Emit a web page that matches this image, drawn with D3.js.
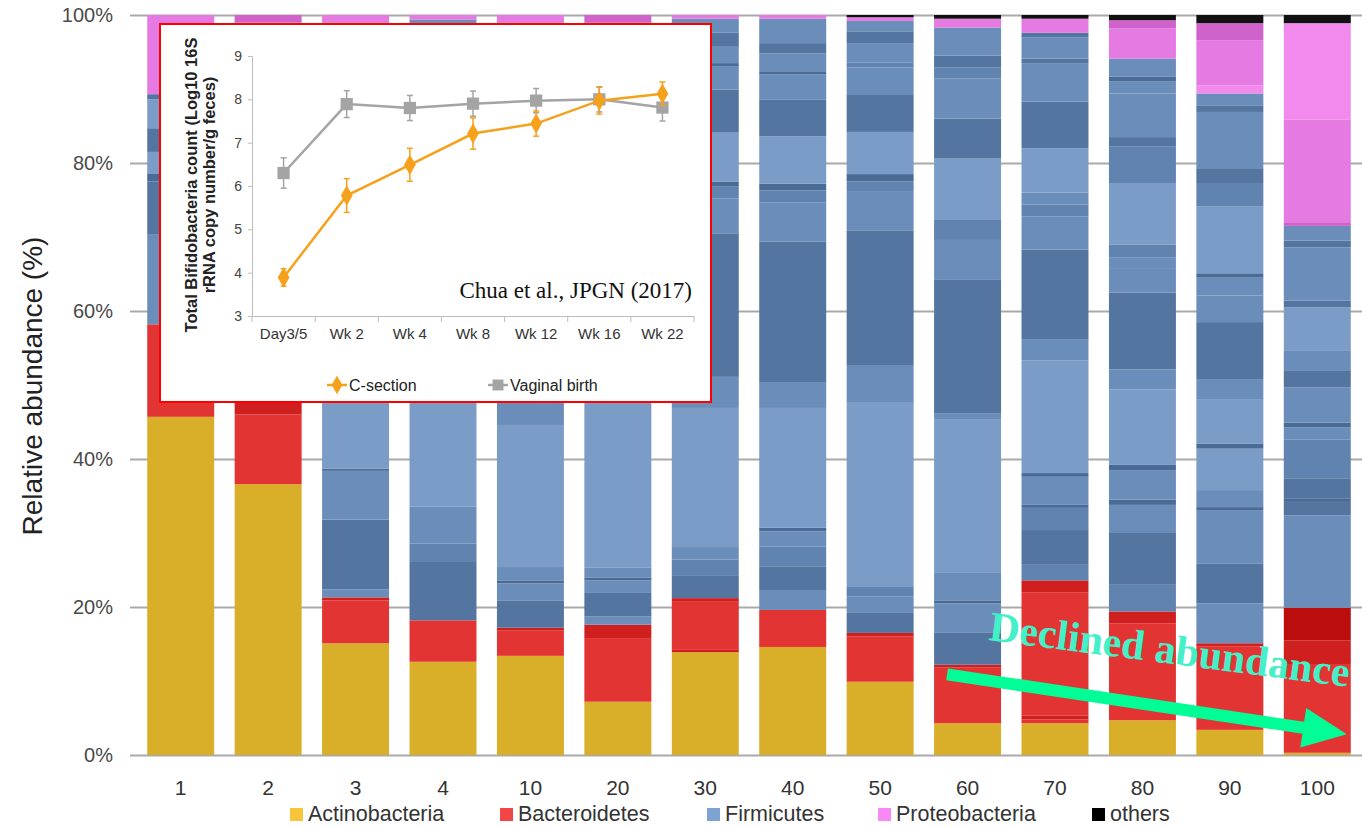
<!DOCTYPE html>
<html>
<head>
<meta charset="utf-8">
<script src="https://cdn.jsdelivr.net/npm/d3@7"></script>
<style>
  body { margin: 0; background: #fff; }
  svg { display: block; font-family: Arial, "Liberation Sans", sans-serif; }
</style>
</head>
<body>
<svg id="chart" width="1362" height="827"></svg>
<script>
// ---- main chart data (relative abundance, %) ----
var samples = ['1','2','3','4','10','20','30','40','50','60','70','80','90','100'];
var actinobacteria = [45.7, 36.6, 15.1, 12.6, 13.4, 7.2, 13.9, 14.6, 9.9, 4.3, 4.3, 4.7, 3.4, 0.3];
// sub-bands [value, shade] from bottom to top
var bacteroidetesBands = [
  [[12.5,'r']],
  [[9.4,'r'],[2.0,'R']],
  [[5.8,'r'],[0.4,'R']],
  [[5.6,'r']],
  [[3.4,'r'],[0.4,'R']],
  [[8.6,'r'],[1.8,'R']],
  [[0.3,'R'],[6.6,'r'],[0.4,'R']],
  [[5.0,'r']],
  [[6.1,'r'],[0.5,'R']],
  [[7.5,'r'],[0.4,'R']],
  [[0.5,'r'],[0.5,'R'],[16.7,'r'],[1.6,'R']],
  [[13.1,'r'],[1.6,'R']],
  [[11.3,'r'],[0.4,'R']],
  [[12.0,'r'],[3.2,'R'],[4.4,'RR']]
];
var firmicutesBands = [
  [[12.2,'M'],[7.1,'D'],[1.1,'X'],[2.9,'L'],[3.2,'D'],[3.9,'L'],[0.7,'D']],
  [[10,'L'],[6,'M'],[9,'D'],[5,'L'],[8,'M'],[6,'D'],[7,'M']],
  [[1.1,'M'],[9.4,'D'],[0.9,'M'],[5.7,'M'],[0.3,'X'],[10.8,'L'],[12,'L'],[8,'M'],[10,'D'],[6,'L'],[8,'M'],[5.5,'D']],
  [[8.0,'D'],[2.4,'K'],[5.0,'M'],[16,'L'],[10,'L'],[8,'M'],[12,'D'],[6,'L'],[8,'M'],[5.8,'M']],
  [[3.7,'D'],[2.3,'M'],[0.4,'X'],[1.8,'M'],[19.2,'L'],[4.7,'M'],[11,'L'],[9,'D'],[8,'M'],[7,'L'],[9,'M'],[5.7,'D']],
  [[1.1,'M'],[3.2,'D'],[1.7,'M'],[0.4,'X'],[1.3,'M'],[24.0,'L'],[10,'L'],[8,'M'],[11,'D'],[7,'L'],[8,'M'],[5.7,'D']],
  [[3.1,'D'],[2.1,'K'],[1.7,'M'],[18.8,'L'],[4.2,'M'],[19.4,'D'],[4.7,'M'],[1.6,'K'],[0.7,'X'],[6.6,'L'],[5.8,'D'],[3.2,'M'],[0.4,'X'],[2.2,'M'],[1.9,'D'],[1.9,'M']],
  [[2.7,'M'],[3.2,'D'],[2.7,'K'],[2.0,'M'],[0.5,'X'],[16.2,'L'],[3.4,'M'],[19.1,'D'],[5.3,'M'],[1.6,'K'],[0.9,'X'],[6.4,'L'],[5.0,'D'],[3.4,'M'],[0.4,'X'],[2.4,'M'],[1.4,'D'],[3.3,'M']],
  [[2.7,'D'],[2.2,'M'],[1.3,'K'],[25.0,'L'],[5.0,'M'],[18.2,'D'],[5.2,'M'],[1.4,'K'],[1.0,'X'],[5.7,'L'],[5.1,'D'],[3.6,'M'],[0.7,'K'],[2.6,'M'],[1.6,'D'],[1.4,'M']],
  [[4.3,'D'],[4.0,'M'],[0.4,'X'],[3.8,'M'],[20.6,'L'],[0.9,'M'],[18.0,'D'],[5.4,'M'],[2.7,'K'],[8.3,'L'],[5.4,'D'],[5.4,'M'],[1.5,'K'],[1.6,'D'],[3.8,'M']],
  [[2.1,'K'],[4.7,'D'],[3.0,'K'],[0.4,'X'],[3.8,'M'],[0.5,'X'],[15.2,'L'],[2.9,'M'],[12.1,'D'],[4.5,'M'],[1.6,'K'],[1.6,'M'],[6.0,'L'],[6.3,'D'],[5.2,'M'],[0.6,'D'],[2.9,'M'],[0.6,'D']],
  [[3.6,'K'],[7.0,'D'],[3.8,'M'],[0.7,'X'],[4.0,'M'],[0.7,'X'],[10.2,'L'],[2.7,'M'],[10.4,'D'],[3.3,'M'],[1.4,'M'],[1.8,'K'],[8.3,'L'],[4.9,'K'],[1.3,'D'],[5.9,'M'],[1.6,'M'],[0.7,'X'],[2.4,'M']],
  [[5.4,'M'],[5.4,'D'],[7.2,'M'],[0.4,'X'],[2.3,'M'],[5.6,'L'],[0.7,'X'],[5.9,'L'],[2.8,'M'],[7.7,'D'],[3.6,'M'],[2.4,'M'],[0.6,'X'],[9.0,'L'],[3.2,'K'],[2.0,'D'],[7.6,'M'],[0.9,'D'],[1.6,'M']],
  [[12.5,'M'],[1.8,'D'],[0.5,'X'],[2.7,'D'],[5.2,'K'],[1.7,'M'],[0.6,'X'],[4.8,'M'],[2.3,'D'],[2.7,'M'],[5.8,'L'],[0.9,'D'],[7.2,'M'],[0.9,'D'],[2.0,'M']]
];
var proteobacteriaBands = [
  [[10.7,'p']],
  [[1.0,'m']],
  [[1.0,'p']],
  [[0.6,'p']],
  [[1.0,'p']],
  [[1.0,'m']],
  [[0.5,'p']],
  [[0.5,'p']],
  [[0.5,'p']],
  [[1.2,'p']],
  [[1.9,'p']],
  [[4.1,'p'],[1.1,'m']],
  [[1.1,'q'],[6.1,'p'],[2.3,'m']],
  [[0.5,'m'],[13.9,'p'],[13.0,'q']]
];
var others = [0, 0, 0, 0, 0, 0, 0, 0, 0.3, 0.5, 0.5, 0.7, 1.1, 1.1];

var yTicks = [0, 20, 40, 60, 80, 100];
var phyla = ['Actinobacteria', 'Bacteroidetes', 'Firmicutes', 'Proteobacteria', 'others'];

// ---- inset data (Chua et al., JPGN 2017) ----
var weeks = ['Day3/5', 'Wk 2', 'Wk 4', 'Wk 8', 'Wk 12', 'Wk 16', 'Wk 22'];
var cSection = [3.89, 5.78, 6.49, 7.21, 7.44, 7.97, 8.13];
var cSectionErr = [0.20, 0.39, 0.38, 0.36, 0.29, 0.31, 0.27];
var vaginal = [6.30, 7.89, 7.80, 7.90, 7.97, 8.00, 7.81];
var vaginalErr = [0.35, 0.31, 0.29, 0.29, 0.28, 0.29, 0.31];
var insetTicks = [3, 4, 5, 6, 7, 8, 9];

var shade = {
  a: '#d9ae29',
  r: '#e33434', R: '#cf1f1f', RR: '#bb0d0d',
  L: '#7a9cc7', M: '#6b8dba', K: '#6083b0', D: '#53759f', X: '#4a6b96',
  p: '#e57ae2', q: '#f28aee', m: '#d062cc',
  o: '#111111'
};
var legendColor = ['#f6c53a', '#f24545', '#7da3d3', '#f888f5', '#000000'];

var svg = d3.select('#chart');

var x = d3.scaleBand().domain(samples).range([137, 1361]).paddingInner(0.234).paddingOuter(0.117);
var y = d3.scaleLinear().domain([0, 100]).range([755, 15]);

// gridlines + y labels
var yAxis = svg.append('g')
  .attr('transform', 'translate(130,0)')
  .call(d3.axisRight(y).tickValues(yTicks).tickSize(1232).tickFormat(function(d){ return d + '%'; }));
yAxis.select('.domain').remove();
yAxis.selectAll('line').attr('stroke', '#a9a9a9').attr('stroke-width', 2);
yAxis.selectAll('text')
  .attr('x', -17).attr('text-anchor', 'end')
  .attr('font-size', 20).attr('fill', '#4a4a4a');

// stacked segments
var segments = [];
samples.forEach(function(s, i) {
  var list = [[actinobacteria[i], 'a']]
    .concat(bacteroidetesBands[i], firmicutesBands[i], proteobacteriaBands[i], [[others[i], 'o']]);
  var acc = 0;
  list.forEach(function(b) {
    segments.push({ sample: s, y0: acc, y1: acc + b[0], c: b[1] });
    acc += b[0];
  });
});

svg.append('g').selectAll('rect')
  .data(segments.filter(function(d){ return d.y1 > d.y0; }))
  .enter().append('rect')
  .attr('x', function(d){ return x(d.sample); })
  .attr('width', x.bandwidth())
  .attr('y', function(d){ return y(d.y1); })
  .attr('height', function(d){ return y(d.y0) - y(d.y1); })
  .attr('fill', function(d){ return shade[d.c]; });

// x axis labels
var xAxis = svg.append('g')
  .attr('transform', 'translate(0,755)')
  .call(d3.axisBottom(x).tickSize(0).tickPadding(25));
xAxis.select('.domain').remove();
xAxis.selectAll('text').attr('font-size', 21).attr('fill', '#333');

// y title
svg.append('text')
  .attr('transform', 'translate(42,386) rotate(-90)')
  .attr('text-anchor', 'middle')
  .attr('font-size', 28).attr('fill', '#222')
  .text('Relative abundance (%)');

// legend
var legendX = [290, 500, 707, 878, 1092];
var legend = svg.append('g').selectAll('g').data(phyla).enter().append('g')
  .attr('transform', function(d, i){ return 'translate(' + legendX[i] + ',0)'; });
legend.append('rect').attr('x', 0).attr('y', 808).attr('width', 13).attr('height', 13)
  .attr('fill', function(d, i){ return legendColor[i]; });
legend.append('text').attr('x', 18).attr('y', 821)
  .attr('font-size', 21.5).attr('fill', '#333').text(function(d){ return d; });

// declined abundance arrow
var ax0 = x('60') + 13, ay0 = y(10.9);
var ax1 = x('100') + x.bandwidth() - 4, ay1 = y(2.8);
var ang = Math.atan2(ay1 - ay0, ax1 - ax0);
var len = Math.hypot(ax1 - ax0, ay1 - ay0);
var hl = 44, hw = 20, sw = 6;
svg.append('path')
  .attr('transform', 'translate(' + ax0 + ',' + ay0 + ') rotate(' + (ang * 180 / Math.PI) + ')')
  .attr('d', 'M0,' + (-sw) + 'L' + (len - hl) + ',' + (-sw) + 'L' + (len - hl) + ',' + (-hw) +
    'L' + len + ',0L' + (len - hl) + ',' + hw + 'L' + (len - hl) + ',' + sw + 'L0,' + sw + 'Z')
  .attr('fill', '#00fd96');
svg.append('text')
  .attr('transform', 'translate(988,640) rotate(7.4)')
  .attr('font-family', '"Liberation Serif", "Times New Roman", serif')
  .attr('font-weight', 'bold').attr('font-size', 42)
  .attr('fill', '#44f0c8')
  .text('Declined abundance');

// ---- inset ----
var inset = svg.append('g');
inset.append('rect').attr('x', 160).attr('y', 24).attr('width', 551).attr('height', 378)
  .attr('fill', '#fff').attr('stroke', '#ff0000').attr('stroke-width', 2);

var ix = d3.scaleBand().domain(weeks).range([252, 694]);
var iy = d3.scaleLinear().domain([3, 9]).range([316, 56]);

var iyAxis = inset.append('g').attr('transform', 'translate(252,0)')
  .call(d3.axisLeft(iy).tickValues(insetTicks).tickSize(4).tickPadding(6).tickFormat(d3.format('d')));
iyAxis.select('.domain').attr('stroke', '#bdbdbd');
iyAxis.selectAll('line').attr('stroke', '#bdbdbd');
iyAxis.selectAll('text').attr('font-size', 14).attr('fill', '#444');

var ixAxis = inset.append('g').attr('transform', 'translate(0,316)')
  .call(d3.axisBottom(ix).tickSize(0).tickPadding(12));
ixAxis.select('.domain').attr('stroke', '#bdbdbd');
ixAxis.selectAll('text').attr('font-size', 15).attr('fill', '#333');
inset.append('g').selectAll('line').data(weeks.concat(['end'])).enter().append('line')
  .attr('x1', function(d, i){ return ix.range()[0] + i * ix.step(); })
  .attr('x2', function(d, i){ return ix.range()[0] + i * ix.step(); })
  .attr('y1', 316).attr('y2', 322).attr('stroke', '#bdbdbd');

inset.append('text')
  .attr('transform', 'translate(197,185) rotate(-90)')
  .attr('text-anchor', 'middle').attr('font-weight', 'bold')
  .attr('font-size', 16.5).attr('fill', '#222')
  .text('Total Bifidobacteria count (Log10 16S');
inset.append('text')
  .attr('transform', 'translate(215,185) rotate(-90)')
  .attr('text-anchor', 'middle').attr('font-weight', 'bold')
  .attr('font-size', 16.5).attr('fill', '#222')
  .text('rRNA copy number/g feces)');

var cx = function(i){ return ix(weeks[i]) + ix.bandwidth() / 2; };
var series = [
  { name: 'Vaginal birth', vals: vaginal, err: vaginalErr, color: '#a4a4a4', sym: d3.symbolSquare, size: 150 },
  { name: 'C-section', vals: cSection, err: cSectionErr, color: '#f5a11c', sym: d3.symbolDiamond, size: 120 }
];
series.forEach(function(s) {
  var g = inset.append('g');
  g.append('path')
    .datum(s.vals)
    .attr('d', d3.line().x(function(d, i){ return cx(i); }).y(function(d){ return iy(d); }))
    .attr('fill', 'none').attr('stroke', s.color).attr('stroke-width', 2.5);
  s.vals.forEach(function(v, i) {
    var top = iy(v + s.err[i]), bot = iy(v - s.err[i]);
    g.append('line').attr('x1', cx(i)).attr('x2', cx(i)).attr('y1', top).attr('y2', bot)
      .attr('stroke', s.color).attr('stroke-width', 1.5);
    [top, bot].forEach(function(yy) {
      g.append('line').attr('x1', cx(i) - 3).attr('x2', cx(i) + 3).attr('y1', yy).attr('y2', yy)
        .attr('stroke', s.color).attr('stroke-width', 1.5);
    });
    g.append('path').attr('d', d3.symbol().type(s.sym).size(s.size))
      .attr('transform', 'translate(' + cx(i) + ',' + iy(v) + ')')
      .attr('fill', s.color);
  });
});

inset.append('text')
  .attr('x', 692).attr('y', 298).attr('text-anchor', 'end')
  .attr('font-family', '"Liberation Serif", "Times New Roman", serif')
  .attr('font-size', 23).attr('fill', '#111')
  .text('Chua et al., JPGN (2017)');

// inset legend
var insetLegend = [
  { name: 'C-section', color: '#f5a11c', sym: d3.symbolDiamond, size: 100, x0: 327 },
  { name: 'Vaginal birth', color: '#a4a4a4', sym: d3.symbolSquare, size: 120, x0: 488 }
];
insetLegend.forEach(function(l) {
  inset.append('line').attr('x1', l.x0).attr('x2', l.x0 + 20).attr('y1', 385).attr('y2', 385)
    .attr('stroke', l.color).attr('stroke-width', 2.5);
  inset.append('path').attr('d', d3.symbol().type(l.sym).size(l.size))
    .attr('transform', 'translate(' + (l.x0 + 10) + ',385)').attr('fill', l.color);
  inset.append('text').attr('x', l.x0 + 22).attr('y', 390.5)
    .attr('font-size', 16).attr('fill', '#222').text(l.name);
});
</script>
</body>
</html>
